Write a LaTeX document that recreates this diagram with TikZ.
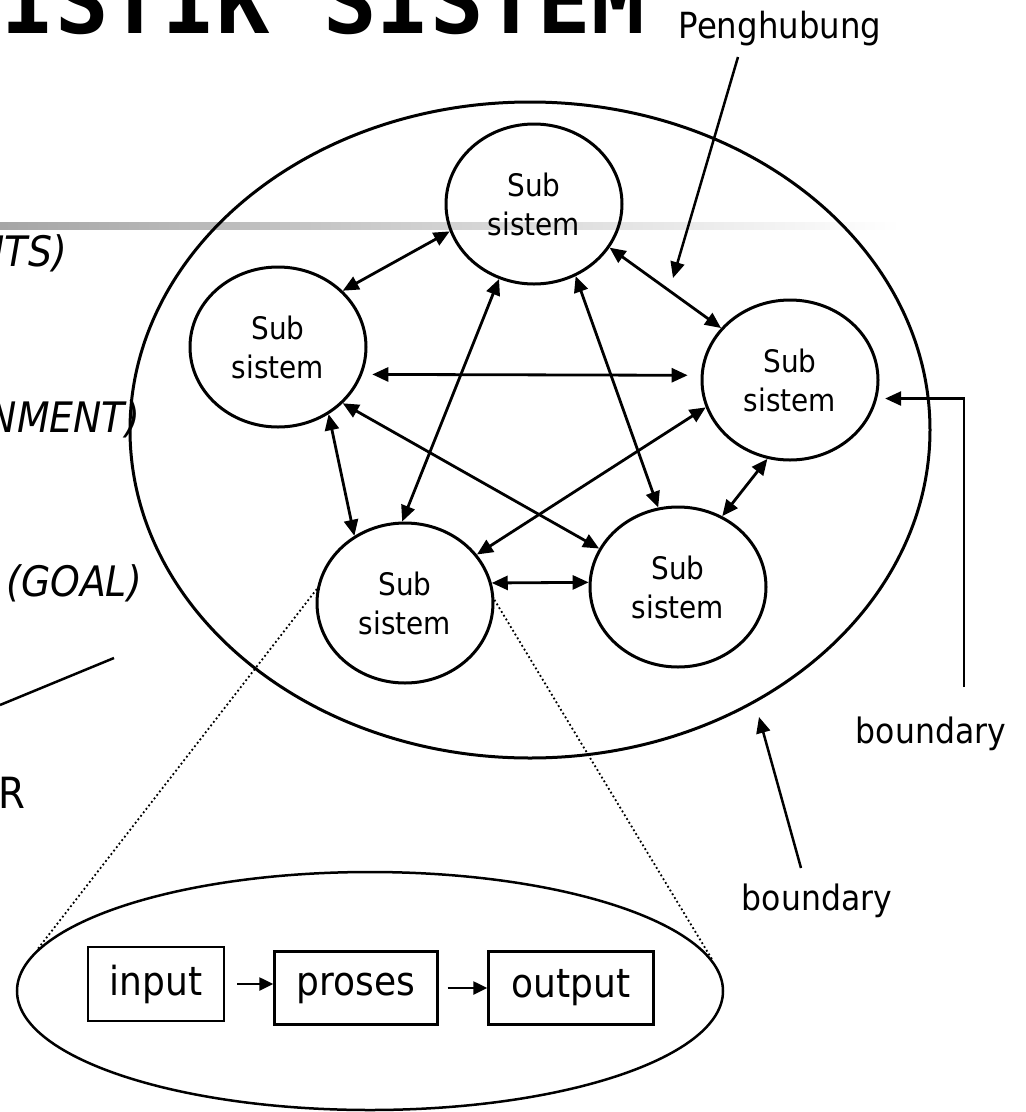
\documentclass[tikz,border=0pt]{standalone}
\usepackage{fontspec}
\setmainfont{DejaVu Sans}[FakeStretch=0.9]
\newfontfamily\headfont{DejaVu Sans Mono}
\usetikzlibrary{shapes.geometric, arrows.meta, positioning}

\begin{document}
\begin{tikzpicture}[
    x=1pt, y=-1pt,
    >={Triangle[length=16pt, width=14pt]},
    every node/.style={inner sep=0pt},
    subsys/.style={draw, ellipse, line width=3pt, minimum width=176pt, minimum height=160pt, align=center, font=\fontsize{31}{39}\selectfont},
    link/.style={<->, line width=2.8pt},
    pointer/.style={->, line width=2.5pt},
    procbox/.style={draw, line width=2.4pt, minimum height=73pt, font=\fontsize{40}{48}\selectfont},
    flow/.style={-{Triangle[length=14pt, width=13pt]}, line width=2.4pt},
    zoomline/.style={line width=1.8pt, dash pattern=on 1.8pt off 2.6pt},
    sidetext/.style={anchor=base east, font=\fontsize{42}{50}\selectfont\itshape},
    tagtext/.style={anchor=base, font=\fontsize{35}{42}\selectfont}
]
\useasboundingbox (0,0) rectangle (1026,1112);
\clip (0,0) rectangle (1026,1112);

% ==================== SLIDE BACKGROUND ====================
\shade[left color=black!35, right color=white] (0,222) rectangle (900,229);
\node[anchor=base east, font=\headfont\bfseries\fontsize{89}{100}\selectfont] (title) at (645,33) {ISTIK SISTEM};

\node[sidetext] (comp) at (67,266) {NTS)};
\node[sidetext] (envi) at (140,432) {NMENT)};
\node[sidetext] (goal) at (142,596) {(GOAL)};
\node[anchor=base east, font=\fontsize{43}{50}\selectfont] (rest) at (26,808) {R};
\draw[line width=2.5pt] (0,705) -- (114,658);

% ==================== SYSTEM + SUBSYSTEMS ====================
\node[draw, ellipse, line width=3pt, minimum width=800pt, minimum height=656pt] (sys) at (530,430) {};

\node[subsys] (top) at (534,204) {Sub\\sistem};
\node[subsys] (left) at (278,347) {Sub\\sistem};
\node[subsys] (right) at (790,380) {Sub\\sistem};
\node[subsys] (botleft) at (405,603) {Sub\\sistem};
\node[subsys] (botright) at (678,587) {Sub\\sistem};

\draw[link] (top.198) -- (left.41);
\draw[link] (top.330) -- (right.143);
\draw[link, shorten <=10pt, shorten >=13pt] (left.-18) -- (right.177);
\draw[link] (left.307) -- (botleft.127);
\draw[link] (left.319) -- (botright.154);
\draw[link] (top.245) -- (botleft.92);
\draw[link] (top.300) -- (botright.104);
\draw[link] (right.198) -- (botleft.34);
\draw[link] (right.254) -- (botright.58);
\draw[link] (botleft.13) -- (botright.177);

% Annotations
\node[anchor=base, font=\fontsize{36}{43}\selectfont] (hub) at (780,38) {Penghubung};
\coordinate (hubtail) at (738,57);
\coordinate (hubtip) at (673,278);
\draw[pointer] (hubtail) -- (hubtip);

\node[tagtext] (bound1) at (931,743) {boundary};
\coordinate (bound1tail) at (964,687);
\draw[pointer, shorten >=8pt] (bound1tail) |- (right.-12);

\node[tagtext] (bound2) at (817,910) {boundary};
\coordinate (bound2tail) at (801,868);
\coordinate (bound2tip) at (759,717);
\draw[pointer] (bound2tail) -- (bound2tip);

% ==================== ZOOM: INPUT-PROSES-OUTPUT ====================
\node[draw, ellipse, line width=2.5pt, minimum width=706pt, minimum height=238pt] (detail) at (370,991) {};
\draw[zoomline] (botleft.171) -- (detail.173);
\draw[zoomline] (botleft.2) -- (detail.5);

\node[procbox, minimum width=136pt, minimum height=74pt] (input) at (156,984) {input};
\node[procbox, minimum width=163pt] (proses) at (356,988) {proses};
\node[procbox, minimum width=165pt] (output) at (571,988) {output};
\draw[flow, shorten <=12pt] (input.east) -- (input.east -| proses.west);
\draw[flow, shorten <=9pt] (proses.east) -- (proses.east -| output.west);

\end{tikzpicture}
\end{document}
